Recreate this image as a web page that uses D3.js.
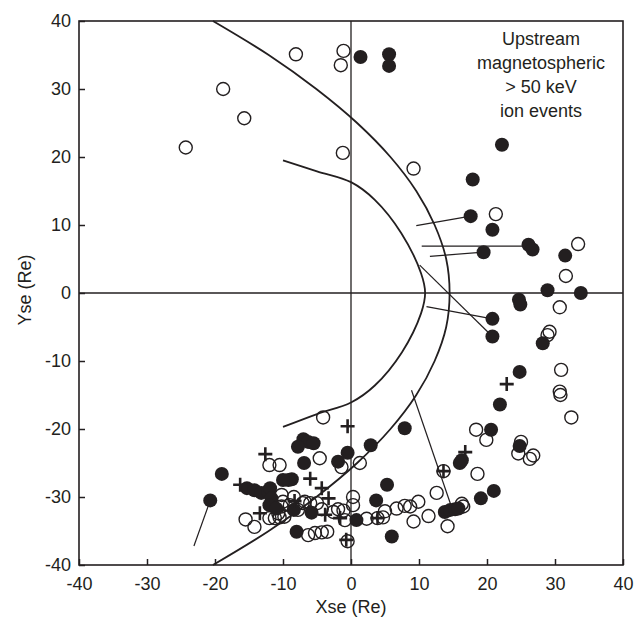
<!doctype html>
<html>
<head>
	<meta charset="utf-8">
	<script src="https://d3js.org/d3.v7.min.js"></script>
	<style>
	body { margin: 0; background: #fff; }
	svg text { font-family: "Liberation Sans", Arial, sans-serif; fill: #231f20; }
	svg .axis path { display: none; }
	svg .axis line { stroke: #231f20; stroke-width: 1.5px; }
	svg .axis text { font-size: 18px; }
	</style>
</head>
<body>
<script>

// event positions, (Xse, Yse) in Re
var filled = [
	[1.4,34.7],[5.6,35.1],[5.6,33.4],[22.2,21.8],[17.9,16.7],[17.6,11.3],[20.8,9.3],
	[19.5,6.0],[26.1,7.1],[26.7,6.4],[31.5,5.5],[28.9,0.4],[33.8,0.0],[24.7,-1.0],
	[24.9,-1.7],[20.8,-3.8],[20.8,-6.4],[28.2,-7.4],[24.8,-11.6],[21.9,-16.4],
	[20.6,-20.1],[24.8,-22.5],[16.0,-25.0],[16.3,-24.6],[19.1,-30.2],[21.0,-29.1],
	[13.8,-32.2],[14.6,-31.9],[15.3,-31.8],[15.8,-31.7],[7.9,-19.9],[5.3,-28.2],
	[3.7,-30.5],[0.8,-33.4],[6.0,-35.8],[2.9,-22.4],[-0.5,-23.5],[-1.9,-24.8],
	[-7.0,-21.5],[-6.3,-21.9],[-5.5,-22.1],[-7.8,-22.6],[-6.9,-25.0],[-8.7,-27.4],
	[-9.2,-27.5],[-10.0,-27.5],[-19.0,-26.6],[-20.7,-30.5],[-15.3,-28.7],[-14.2,-29.0],
	[-13.2,-29.4],[-12.2,-29.2],[-11.9,-28.7],[-11.7,-30.2],[-12.0,-31.2],[-11.0,-31.7],
	[-8.4,-31.9],[-5.8,-32.3],[-8.0,-35.1]
];

var open = [
	[-1.1,35.6],[-1.5,33.5],[-8.1,35.1],[-18.8,30.0],[-15.7,25.7],[-24.3,21.4],
	[-1.2,20.6],[9.2,18.3],[21.3,11.6],[33.4,7.2],[31.6,2.5],[30.7,-2.1],[29.2,-5.7],
	[28.9,-6.2],[30.9,-11.3],[30.7,-14.5],[30.8,-15.0],[32.4,-18.3],[18.4,-20.1],
	[19.9,-21.6],[25.0,-21.9],[24.6,-23.6],[26.3,-24.4],[26.8,-23.9],[18.6,-26.6],
	[13.6,-26.2],[12.6,-29.4],[9.9,-30.7],[8.7,-31.4],[7.9,-31.3],[6.7,-31.7],
	[5.0,-32.1],[11.4,-32.8],[9.2,-33.6],[14.2,-34.3],[16.3,-31.0],[16.5,-31.4],
	[1.3,-25.0],[-1.4,-25.6],[-4.1,-18.3],[-4.6,-24.3],[0.3,-30.0],[0.3,-31.2],
	[2.3,-33.2],[3.9,-33.1],[4.7,-33.0],[-0.5,-36.5],[-12.0,-25.3],[-10.5,-25.3],
	[-10.2,-29.7],[-10.0,-30.7],[-10.2,-31.4],[-10.7,-32.4],[-9.0,-31.2],[-7.8,-31.9],
	[-7.1,-30.9],[-8.4,-30.0],[-6.8,-30.7],[-6.0,-30.9],[-5.0,-30.9],[-4.3,-31.8],
	[-2.6,-32.2],[-1.9,-31.8],[-1.1,-32.0],[-0.9,-33.4],[-15.5,-33.3],[-14.2,-34.4],
	[-12.0,-33.1],[-11.2,-33.1],[-10.5,-33.0],[-9.8,-32.9],[-6.3,-35.6],[-5.3,-35.3],
	[-4.3,-35.2],[-3.5,-35.1]
];

var plus = [
	[22.9,-13.4],[16.8,-23.4],[13.6,-26.2],[-0.5,-19.6],[3.9,-33.1],[-0.7,-36.3],
	[-12.6,-23.7],[-16.3,-28.2],[-13.4,-32.4],[-8.3,-30.6],[-6.0,-27.3],[-4.3,-28.7],
	[-3.3,-30.2],[-3.8,-32.6],[-1.6,-33.1]
];

// thin connector lines
var connectors = [
	[[9.6,9.9],[17.6,11.3]],
	[[10.4,6.9],[26.3,6.9]],
	[[11.6,5.4],[19.5,6.0]],
	[[11.1,-2.0],[20.8,-3.8]],
	[[10.1,4.1],[20.8,-6.4]],
	[[8.9,-14.3],[14.8,-31.5]],
	[[-20.7,-30.5],[-23.1,-37.2]]
];

// boundaries
var bowShock = [
	[-20.3,40],[-12.1,35],[-5.1,30],[0.9,25],[5.8,20],[9.6,15],[12.3,10],[14.0,5],[14.5,0],
	[14.0,-5],[12.3,-10],[9.6,-15],[5.8,-20],[0.9,-25],[-5.1,-30],[-12.1,-35],[-20.3,-40]
];
var magnetopause = [
	[-10,19.5],[-5,17.9],[0,16.3],[3.5,13.7],[7.4,8.8],[10.3,2.9],[10.9,0],
	[10.3,-3.0],[7.5,-8.7],[3.5,-13.6],[0,-16.1],[-5,-17.8],[-10,-19.7]
];

var tickVals = [-40,-30,-20,-10,0,10,20,30,40];
var noteLines = ["Upstream","magnetospheric","> 50 keV","ion events"];

var W = 638, H = 617;
var svg = d3.select("body").append("svg")
	.attr("width", W)
	.attr("height", H);

var x = d3.scaleLinear().domain([-40,40]).range([79,623]);
var y = d3.scaleLinear().domain([-40,40]).range([565,21]);

var plainNum = function(d){ return String(d); };

// axes, ticks point inwards
svg.append("g")
	.attr("class","axis")
	.attr("transform","translate(0,565)")
	.call(d3.axisBottom(x).tickValues(tickVals).tickFormat(plainNum).tickSize(-6).tickSizeOuter(0).tickPadding(12));

svg.append("g")
	.attr("class","axis")
	.attr("transform","translate(79,0)")
	.call(d3.axisLeft(y).tickValues(tickVals).tickFormat(plainNum).tickSize(-6).tickSizeOuter(0).tickPadding(8));

svg.append("rect")
	.attr("x", x(-40)).attr("y", y(40))
	.attr("width", x(40)-x(-40)).attr("height", y(-40)-y(40))
	.attr("fill","none").attr("stroke","#231f20").attr("stroke-width",1.6);

// zero lines
svg.append("line")
	.attr("x1", x(0)).attr("x2", x(0)).attr("y1", y(40)).attr("y2", y(-40))
	.attr("stroke","#231f20").attr("stroke-width",1.3);
svg.append("line")
	.attr("x1", x(-40)).attr("x2", x(40)).attr("y1", y(0)).attr("y2", y(0))
	.attr("stroke","#231f20").attr("stroke-width",1.3);

var curve = d3.line()
	.x(function(d){ return x(d[0]); })
	.y(function(d){ return y(d[1]); })
	.curve(d3.curveCatmullRom.alpha(0.5));

svg.append("path").attr("d", curve(bowShock))
	.attr("fill","none").attr("stroke","#231f20").attr("stroke-width",1.8);
svg.append("path").attr("d", curve(magnetopause))
	.attr("fill","none").attr("stroke","#231f20").attr("stroke-width",1.8);

svg.selectAll(".conn").data(connectors).enter().append("line")
	.attr("class","conn")
	.attr("x1", function(d){ return x(d[0][0]); })
	.attr("y1", function(d){ return y(d[0][1]); })
	.attr("x2", function(d){ return x(d[1][0]); })
	.attr("y2", function(d){ return y(d[1][1]); })
	.attr("stroke","#231f20").attr("stroke-width",1.2);

// markers
svg.selectAll(".open").data(open).enter().append("circle")
	.attr("class","open")
	.attr("cx", function(d){ return x(d[0]); })
	.attr("cy", function(d){ return y(d[1]); })
	.attr("r", 6.5)
	.attr("fill","none").attr("stroke","#231f20").attr("stroke-width",1.4);

svg.selectAll(".filled").data(filled).enter().append("circle")
	.attr("class","filled")
	.attr("cx", function(d){ return x(d[0]); })
	.attr("cy", function(d){ return y(d[1]); })
	.attr("r", 7)
	.attr("fill","#231f20");

svg.selectAll(".plus").data(plus).enter().append("path")
	.attr("class","plus")
	.attr("transform", function(d){ return "translate(" + x(d[0]) + "," + y(d[1]) + ")"; })
	.attr("d", "M-7,0H7M0,-7V7")
	.attr("stroke","#231f20").attr("stroke-width",2.6).attr("fill","none");

// axis titles
svg.append("text")
	.attr("x", x(0)).attr("y", 613)
	.attr("text-anchor","middle").attr("font-size",18)
	.text("Xse  (Re)");
svg.append("text")
	.attr("transform","translate(31,290) rotate(-90)")
	.attr("text-anchor","middle").attr("font-size",18)
	.text("Yse  (Re)");

// note in top right
svg.append("g").selectAll("text").data(noteLines).enter().append("text")
	.attr("x", 541)
	.attr("y", function(d,i){ return 45 + i*24; })
	.attr("text-anchor","middle").attr("font-size",18)
	.text(function(d){ return d; });

</script>
</body>
</html>
